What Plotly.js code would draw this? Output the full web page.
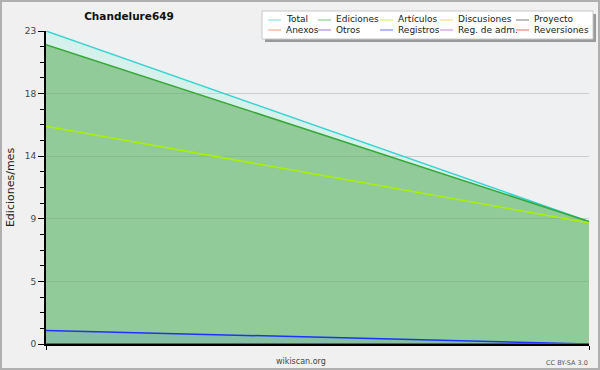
<!DOCTYPE html>
<html><head><meta charset="utf-8">
<script src="https://cdn.plot.ly/plotly-3.0.1.min.js"></script>
<style>html,body{margin:0;padding:0;background:#f0f0f0;} #chart{width:600px;height:370px;}</style>
</head><body><div id="chart"></div>
<script>
// ---- data ----
const chartTitle = 'Chandelure649';
const yAxisTitle = 'Ediciones/mes';
const periods = [0, 1];
const seriesNames = ['Total', 'Ediciones', 'Artículos', 'Discusiones', 'Proyecto',
                     'Anexos', 'Otros', 'Registros', 'Reg. de adm.', 'Reversiones'];
const total = [23, 9];
const ediciones = [22, 9];
const articulos = [16, 8.9];
const discusiones = [0, 0];
const proyecto = [0, 0];
const anexos = [0, 0];
const otros = [0, 0];
const registros = [1, 0];
const regAdm = [0, 0];
const reversiones = [0, 0];
const yTickVals = [0, 4.6, 9.2, 13.8, 18.4, 23];
const yTickText = ['0', '5', '9', '14', '18', '23'];
const footerText = 'wikiscan.org';
const licenseText = 'CC BY-SA 3.0';

// ---- style ----
const W = 600, H = 370, ML = 46, MR = 11, MT = 31, MB = 26;
const PW = W - ML - MR, PH = H - MT - MB;
const px2x = p => (p - ML) / PW;
const px2y = p => (H - MB - p) / PH;

const seriesValues = [total, ediciones, articulos, discusiones, proyecto,
                      anexos, otros, registros, regAdm, reversiones];
const lineColors = ['#36d3d0', '#36a836', '#aaf000', '#f0c020', '#404040',
                    '#f07030', '#7030c0', '#2030ff', '#b040d0', '#e02020'];
const fillColors = ['rgba(140,245,220,0.25)', 'rgba(78,165,72,0.5)', null, null, null,
                    null, null, 'rgba(80,120,220,0.15)', null, null];
const FONT = 'DejaVu Sans';

const traces = seriesNames.map((name, i) => {
  const t = {
    type: 'scatter', mode: 'lines', name: name,
    x: periods, y: seriesValues[i],
    line: {color: lineColors[i], width: 1.5},
    showlegend: false, hoverinfo: 'skip'
  };
  if (fillColors[i]) { t.fill = 'tozeroy'; t.fillcolor = fillColors[i]; }
  return t;
});

// legend drawn as shapes + annotations
const legendTextX = [285, 335, 397, 457, 533];
const legendRowY = [19.5, 29.5];
const shapes = [
  {type: 'rect', xref: 'paper', yref: 'paper', x0: px2x(265), x1: px2x(596), y0: px2y(14), y1: px2y(42),
   fillcolor: '#9a9a9a', line: {width: 0}, layer: 'above'},
  {type: 'rect', xref: 'paper', yref: 'paper', x0: px2x(262), x1: px2x(593), y0: px2y(11), y1: px2y(39),
   fillcolor: '#ffffff', line: {color: '#c8c8c8', width: 1}, layer: 'above'},
  {type: 'rect', xref: 'paper', yref: 'paper', x0: px2x(1), x1: px2x(599), y0: px2y(1), y1: px2y(369),
   fillcolor: 'rgba(0,0,0,0)', line: {color: '#b0b0b0', width: 2}, layer: 'above'}
];
const annotations = [];
seriesNames.forEach((name, i) => {
  const col = i % 5, row = Math.floor(i / 5);
  const tx = legendTextX[col], ty = legendRowY[row];
  shapes.push({type: 'line', xref: 'paper', yref: 'paper',
    x0: px2x(tx - 17), x1: px2x(tx - 4), y0: px2y(ty + 0.5), y1: px2y(ty + 0.5),
    line: {color: lineColors[i], width: 1.2}, opacity: 0.55, layer: 'above'});
  annotations.push({xref: 'paper', yref: 'paper', x: px2x(tx - 1), y: px2y(ty),
    xanchor: 'left', yanchor: 'middle', showarrow: false, text: name,
    font: {family: FONT, size: 9, color: '#222'}});
});
annotations.push({xref: 'paper', yref: 'paper', x: px2x(300.5), y: px2y(361),
  xanchor: 'center', yanchor: 'middle', showarrow: false, text: footerText,
  font: {family: FONT, size: 8, color: '#444'}});
annotations.push({xref: 'paper', yref: 'paper', x: px2x(590), y: px2y(362.5),
  xanchor: 'right', yanchor: 'middle', showarrow: false, text: licenseText,
  font: {family: FONT, size: 6.5, color: '#555'}});

const layout = {
  width: W, height: H,
  margin: {l: ML, r: MR, t: MT, b: MB, pad: 0},
  paper_bgcolor: '#f0f0f0', plot_bgcolor: '#eff0f2',
  font: {family: FONT, color: '#444'},
  showlegend: false,
  title: {text: '<b>' + chartTitle + '</b>', font: {family: FONT, size: 10.5, color: '#111'},
          x: 129 / W, xanchor: 'center', xref: 'container', y: 1 - 16.5 / H, yanchor: 'middle', yref: 'container'},
  xaxis: {range: [0, 1], showgrid: false, zeroline: false, showticklabels: false,
          tickmode: 'array', tickvals: periods, ticks: 'outside', ticklen: 4, tickcolor: '#000',
          showline: true, linecolor: '#000', linewidth: 2, fixedrange: true},
  yaxis: {range: [0, 23], tickmode: 'array', tickvals: yTickVals, ticktext: yTickText,
          ticks: 'outside', ticklen: 6, tickcolor: '#000', tickwidth: 1,
          tickfont: {family: FONT, size: 9, color: '#444'},
          showgrid: true, gridcolor: '#cdcdcd', gridwidth: 1, zeroline: false,
          showline: true, linecolor: '#000', linewidth: 2,
          minor: {tick0: 0, dtick: 1.15, ticks: 'outside', ticklen: 4, tickcolor: '#000', showgrid: false},
          title: {text: yAxisTitle, font: {family: FONT, size: 11, color: '#222'}, standoff: 8},
          fixedrange: true},
  shapes: shapes,
  annotations: annotations
};

Plotly.newPlot('chart', traces, layout, {displayModeBar: false, staticPlot: true});
</script>
</body></html>
